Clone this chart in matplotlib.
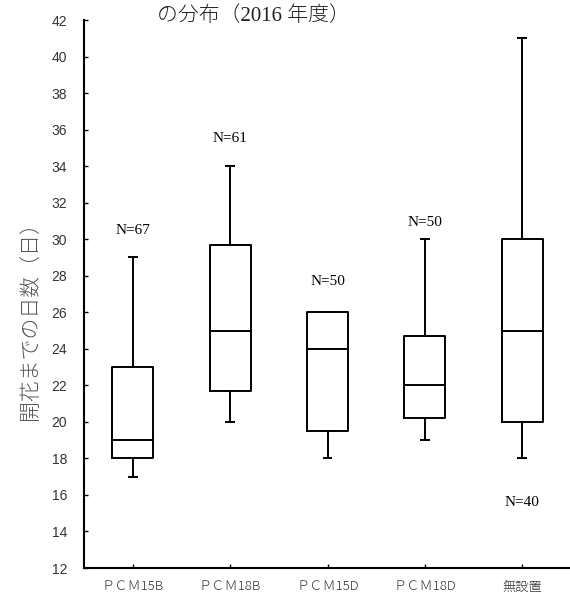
import matplotlib
matplotlib.use("Agg")
import matplotlib.pyplot as plt

categories = ["ＰＣＭ15B", "ＰＣＭ18B", "ＰＣＭ15D", "ＰＣＭ18D", "無設置"]
whislo = [17, 20, 18, 19, 18]
q1 = [18, 21.7, 19.5, 20.2, 20]
med = [19, 25, 24, 22, 25]
q3 = [23, 29.7, 26, 24.7, 30]
whishi = [29, 34, 26, 30, 41]
n_labels = ["N=67", "N=61", "N=50", "N=50", "N=40"]
n_label_y = [30.5, 35.5, 27.7, 30.9, 15.6]
yticks = list(range(12, 43, 2))

plt.rcParams['font.family'] = ['Liberation Serif', 'Noto Sans CJK JP', 'DejaVu Sans']

fig = plt.figure(figsize=(5.7, 5.92), dpi=100)
ax = fig.add_axes([84/570, 1-568/592, (571-84)/570, (568-20)/592])

stats = []
for i in range(len(categories)):
    stats.append(dict(whislo=whislo[i], q1=q1[i], med=med[i], q3=q3[i], whishi=whishi[i], fliers=[]))

lw = 1.4
ax.bxp(stats, positions=range(1, len(categories)+1), widths=0.42, showfliers=False,
       boxprops=dict(color='black', linewidth=lw),
       whiskerprops=dict(color='black', linewidth=lw),
       capprops=dict(color='black', linewidth=lw),
       medianprops=dict(color='black', linewidth=lw),
       capwidths=0.08)

for i, (t, y) in enumerate(zip(n_labels, n_label_y)):
    ax.text(i+1, y, t, ha='center', va='center', fontsize=11)

ax.set_xlim(0.5, 5.5)
ax.set_ylim(12, 42)
ax.set_yticks(yticks)
ax.set_yticklabels([str(v) for v in yticks], fontsize=10, color='#333333',
                   family=['Liberation Sans Narrow', 'Liberation Sans'])
ax.set_xticks(range(1, len(categories)+1))
ax.set_xticklabels(categories, fontsize=9.5, family=['Noto Sans CJK JP'], color='#333333',
                   fontweight='light')
ax.tick_params(axis='both', direction='in', length=3, width=1)
ax.tick_params(axis='y', pad=12)
ax.tick_params(axis='x', pad=9)
for s in ['top', 'right']:
    ax.spines[s].set_visible(False)
for s in ['left', 'bottom']:
    ax.spines[s].set_linewidth(1.5)

fig.text(30/570, 1-316/592, "開花までの日数（日）", rotation=90, ha='center', va='center',
         fontsize=15, color='#555555', family=['Noto Sans CJK JP'], fontweight='light')
fig.text(253/570, 1-16/592, "の分布（2016 年度）", ha='center', va='center', fontsize=15,
         color='#222222', family=['Liberation Serif', 'Noto Sans CJK JP'], fontweight='light')

fig.savefig("out.png", dpi=100)
